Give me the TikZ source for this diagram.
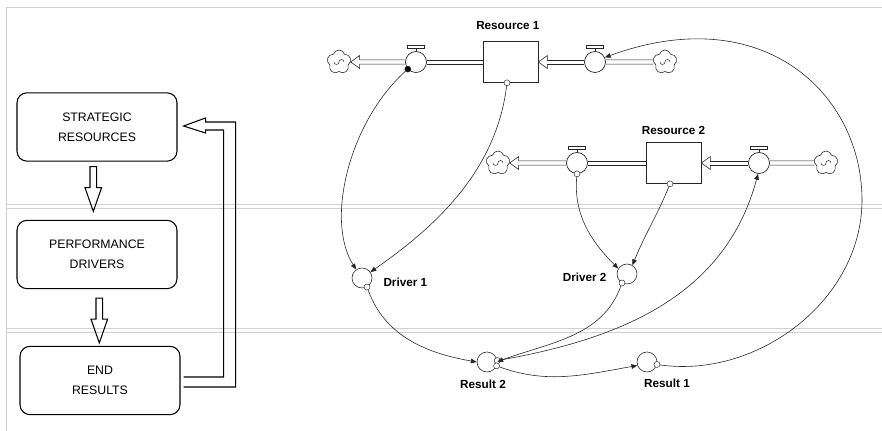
\documentclass[tikz,border=0pt]{standalone}
\usepackage{fontspec}
\setmainfont{Liberation Sans}
\usetikzlibrary{arrows.meta,calc,positioning,shapes.symbols}
\tikzset{>={Triangle[length=5pt,width=4pt]}}

\begin{document}
\begin{tikzpicture}[x=0.03cm, y=0.03cm,
  panel/.style={black!18, line width=0.8pt},
  block/.style={draw, rounded corners=0.3cm, line width=0.9pt, minimum width=4.8cm, minimum height=2.05cm, align=center, font=\fontsize{10.5}{17}\selectfont},
  stock/.style={draw, black!85, line width=0.6pt, minimum width=1.65cm, minimum height=1.23cm},
  valve/.style={draw, circle, black!85, line width=0.6pt, minimum size=0.63cm, inner sep=0},
  aux/.style={draw, circle, black!85, line width=0.5pt, minimum size=0.6cm, inner sep=0},
  src/.style={cloud, cloud puffs=5, aspect=1, draw, black!85, line width=0.5pt, minimum size=0.72cm, inner sep=0},
  pipe/.style={black!85, line width=0.5pt},
  link/.style={->, black!85, line width=0.5pt},
  tap/.style={draw, circle, black!85, fill=white, line width=0.4pt, inner sep=0, minimum size=0.18cm},
  lab/.style={font=\fontsize{10}{12}\selectfont\bfseries, inner sep=0}]
\useasboundingbox (0,0) rectangle (882,-431);

% panels
\draw[panel] (6,-431) -- (6,-7) -- (882,-7);
\foreach \y in {204.5,208,328.5,332}
  \draw[panel] (6,-\y) -- (882,-\y);

% left: the chain
\node[block] (sr) at (97,-127) {STRATEGIC\\RESOURCES};
\node[block] (pd) at (97,-254.5) {PERFORMANCE\\DRIVERS};
\node[block] (er) at (100,-380.5) {END\\RESULTS};
\foreach \b/\dx/\dy in {sr/-7/-5, pd/-1/-9}
  \draw[line width=0.9pt] ($(\b.south)+(\dx,\dy)$) -- ++(0,-21) -- ++(-5,0) -- ++(8.3,-23.7)
    -- ++(8.3,23.7) -- ++(-5,0) -- ++(0,21) -- cycle;
\draw[line width=0.9pt] ($(er.east)+(3,-6.5)$) -- ++(52,0) |- ($(sr.east)+(28,5)$) -- ++(0,4)
  -- ($(sr.east)+(6,1)$) -- ++(22,-7) -- ++(0,3) -| ($(er.east)+(43,3.5)$) -- ($(er.east)+(3,3.5)$);

% right: stocks and flows
\node[stock] (stock1) at (510.5,-62) {};
\node[lab, above=0.33cm of stock1, xshift=-0.08cm] (stock1l) {Resource 1};
\node[valve] (v1out) at (416,-62) {};
\node[src] (cl1) at (339,-62) {};
\node[valve] (v1in) at (595,-62) {};
\node[src] (cr1) at (665,-62) {};

\node[stock] (stock2) at (673.5,-163) {};
\node[lab, above=0.23cm of stock2] (stock2l) {Resource 2};
\node[valve] (v2out) at (577,-163) {};
\node[src] (cl2) at (498,-163) {};
\node[valve] (v2in) at (759,-163) {};
\node[src] (cr2) at (826,-163) {};

\node[aux] (d1) at (362,-278) {};
\node[lab, right=0.33cm of d1, yshift=-0.12cm] (d1l) {Driver 1};
\node[aux] (d2) at (627,-274) {};
\node[lab, left=0.3cm of d2, yshift=-0.09cm] (d2l) {Driver 2};
\node[aux] (res2) at (487,-362) {};
\node[lab, below=0.22cm of res2, xshift=-0.12cm] (res2l) {Result 2};
\node[aux] (res1) at (647,-362) {};
\node[lab, below=0.18cm of res1, xshift=0.6cm] (res1l) {Result 1};

% pipes: two lines each
\foreach \a/\b/\o in {v1out.east/stock1.west/0, v1out.west/cl1.east/9, cr1.west/v1in.east/0,
    v1in.west/stock1.east/9, v2out.east/stock2.west/0, v2out.west/cl2.east/9,
    cr2.west/v2in.east/0, v2in.west/stock2.east/9}
  \foreach \s in {-2.2,2.2}
    \draw[pipe] ($(\a)+(0,\s)$) -- ($(\b)+(\o,\s)$);
\foreach \t in {cl1.east, stock1.east, cl2.east, stock2.east}
  \draw[pipe] ($(\t)+(9,2.2)$) -- ++(0,4.3) -- (\t) -- ($(\t)+(9,-6.5)$) -- ++(0,4.3);
\foreach \v in {v1out, v1in, v2out, v2in} {
  \draw[pipe] (\v.north) -- ++(0,3);
  \draw[pipe] ($(\v.north)+(-8.5,3)$) rectangle ++(17,2.5);
}
\foreach \c in {cl1, cr1, cl2, cr2}
  \draw[black!85, line width=0.4pt] ($(\c)+(-5,0)$) arc (180:360:2.5) arc (180:0:2.5);

% connectors
\node[tap, fill=black] (v1t) at (v1out.221) {};
\node[tap] (s1t) at ($(stock1.south)+(-3.5,0)$) {};
\node[tap] (s2t) at ($(stock2.south)+(-3.5,0)$) {};
\node[tap] (v2t) at (v2out.south) {};
\node[tap] (d1t) at (d1.-61) {};
\node[tap] (d2t) at (d2.241) {};
\node[tap] (res2a) at (res2.8) {};
\node[tap] (res2b) at (res2.-22) {};
\node[tap] (res1t) at (res1.-14) {};

\draw[link] (v1t) .. controls +(222:78) and +(122:59) .. (d1.125);
\draw[link] (s1t) .. controls +(263:93) and +(35:72) .. (d1.35);
\draw[link] (v2t) .. controls +(265:40) and +(135:40) .. (d2.148);
\draw[link] (s2t) .. controls +(248:35) and +(68:35) .. (d2.58);
\draw[link] (d1t) .. controls +(290:52) and +(170:52) .. (res2.180);
\draw[link] (d2t) .. controls +(250:57) and +(20:57) .. (res2.2);
\draw[link] (res2b) .. controls +(-20:54) and +(190:54) .. (res1.200);
\draw[link] (res2a) .. controls +(10:126) and +(255:126) .. (v2in.265);
\draw[link] (res1t) .. controls +(-8:102) and +(270:100) .. (862,-200)
  .. controls +(90:105) and +(20:170) .. (v1in.25);
\end{tikzpicture}
\end{document}
